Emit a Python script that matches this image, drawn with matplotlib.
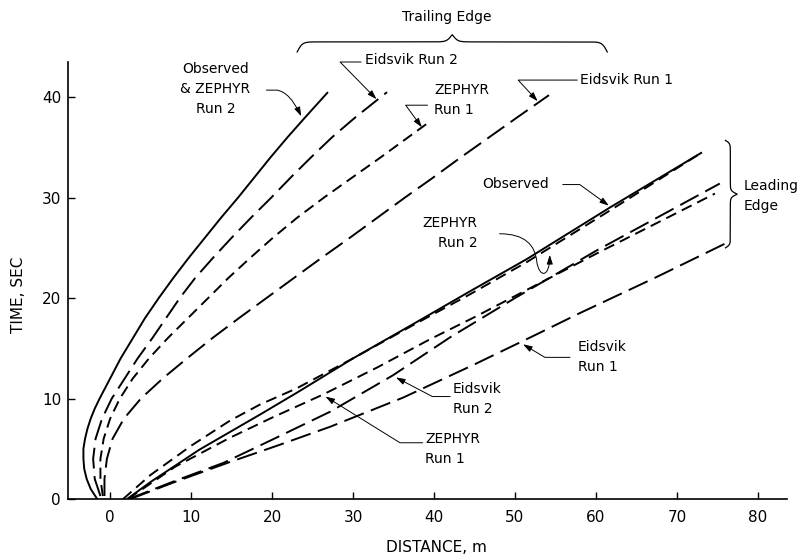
import numpy as np
import matplotlib
matplotlib.use("Agg")
import matplotlib.pyplot as plt
from matplotlib.path import Path
from matplotlib.patches import FancyArrowPatch

# ---------------- data: time (s) vs. distance (m) ----------------
# Trailing edge
trail_observed_time = [0.0, 1.0, 2.0, 3.0, 4.0, 5.0, 6.0, 7.0, 8.0, 9.0, 10.0, 12.0, 14.0, 16.0,
                       18.0, 20.0, 22.0, 24.0, 26.0, 28.0, 30.0, 32.0, 34.0, 36.0, 38.0, 40.5]
trail_observed_dist = [-1.6, -2.4, -2.9, -3.2, -3.3, -3.3, -3.1, -2.8, -2.4, -1.9, -1.3, 0.0, 1.3, 2.8,
                       4.3, 6.0, 7.8, 9.7, 11.7, 13.7, 15.8, 17.8, 19.8, 21.9, 24.1, 26.9]

trail_eid2_time = [0.3, 2.0, 4.0, 6.0, 8.0, 10.0, 12.0, 14.0, 16.0, 18.0, 20.0, 22.0, 24.0, 26.0,
                   28.0, 30.0, 32.0, 34.0, 36.0, 38.0, 40.5]
trail_eid2_dist = [-1.2, -1.9, -2.1, -1.8, -1.0, 0.2, 1.8, 3.4, 5.2, 6.9, 8.6, 10.5, 12.7, 15.0,
                   17.4, 19.9, 22.3, 24.8, 27.4, 30.3, 34.2]

trail_zep1_time = [0.3, 2.0, 4.0, 6.0, 8.0, 10.0, 12.0, 14.0, 16.0, 18.0, 20.0, 22.0, 24.0, 26.0,
                   28.0, 30.0, 32.0, 34.0, 36.0, 37.4]
trail_zep1_dist = [-0.9, -1.2, -1.2, -0.8, 0.0, 1.2, 2.8, 4.8, 7.1, 9.6, 12.1, 14.6, 17.3, 20.1,
                   23.1, 26.4, 29.9, 33.4, 36.8, 39.2]

trail_eid1_time = [0.3, 2.0, 4.0, 6.0, 8.0, 10.0, 12.0, 14.0, 16.0, 18.0, 20.0, 22.0, 24.0, 26.0,
                   28.0, 30.0, 32.0, 34.0, 36.0, 38.0, 40.2]
trail_eid1_dist = [-0.7, -0.7, -0.4, 0.3, 1.7, 3.8, 6.5, 9.5, 12.6, 15.9, 19.3, 22.7, 26.1, 29.6,
                   33.0, 36.4, 39.9, 43.3, 46.8, 50.3, 54.2]

# Leading edge
lead_observed_dist = [2.1, 5.0, 11.0, 18.5, 23.1, 30.0, 37.4, 44.5, 51.5, 61.7, 73.1]
lead_observed_time = [0.0, 1.7, 4.9, 8.4, 10.6, 14.0, 17.4, 20.7, 23.9, 29.0, 34.5]

lead_zep2_dist = [1.6, 5.0, 10.0, 14.8, 18.5, 23.0, 30.0, 37.4, 44.5, 51.5, 61.7, 73.1]
lead_zep2_time = [0.0, 2.4, 5.3, 7.8, 9.4, 11.0, 14.0, 17.3, 20.4, 23.6, 28.7, 34.5]

lead_zep1_dist = [2.2, 8.0, 14.8, 20.0, 26.3, 33.0, 39.5, 45.0, 50.0, 60.0, 74.7]
lead_zep1_time = [0.0, 3.2, 6.1, 8.1, 10.4, 13.1, 15.9, 18.1, 20.2, 24.4, 30.4]

lead_eid2_dist = [2.3, 8.0, 14.0, 20.0, 27.2, 34.9, 42.0, 50.0, 60.0, 75.3]
lead_eid2_time = [0.0, 1.8, 3.6, 5.9, 8.7, 12.3, 16.1, 20.0, 24.7, 31.4]

lead_eid1_dist = [2.5, 8.0, 14.5, 20.6, 27.2, 36.2, 45.0, 52.7, 58.0, 67.5, 75.9]
lead_eid1_time = [0.0, 1.7, 3.6, 5.3, 7.2, 10.1, 13.4, 16.4, 18.5, 22.1, 25.4]

x_ticks = [0, 10, 20, 30, 40, 50, 60, 70, 80]
y_ticks = [0, 10, 20, 30, 40]

# ---------------- figure ----------------
plt.rcParams["font.family"] = ["DejaVu Sans"]
plt.rcParams["lines.scale_dashes"] = False

fig = plt.figure(figsize=(8.09, 5.6), dpi=100)
ax = fig.add_axes([0.0841, 0.1089, 0.8887, 0.7804])
ax.set_xlim(-5.2, 83.6)
ax.set_ylim(0, 43.5)

LW = 1.4
solid = dict(color="k", lw=LW, solid_capstyle="butt", solid_joinstyle="round")
eid_style = dict(color="k", lw=LW, dashes=(15, 5.5), dash_capstyle="butt")
zep_style = dict(color="k", lw=LW, dashes=(8, 4.5), dash_capstyle="butt")

ax.plot(trail_observed_dist, trail_observed_time, **solid)
ax.plot(trail_eid2_dist, trail_eid2_time, **eid_style)
ax.plot(trail_zep1_dist, trail_zep1_time, **zep_style)
ax.plot(trail_eid1_dist, trail_eid1_time, **eid_style)

ax.plot(lead_observed_dist, lead_observed_time, **solid)
ax.plot(lead_zep2_dist, lead_zep2_time, **zep_style)
ax.plot(lead_zep1_dist, lead_zep1_time, **zep_style)
ax.plot(lead_eid2_dist, lead_eid2_time, **eid_style)
ax.plot(lead_eid1_dist, lead_eid1_time, **eid_style)

# axes styling
for side in ("top", "right"):
    ax.spines[side].set_visible(False)
for side in ("left", "bottom"):
    ax.spines[side].set_linewidth(1.2)
ax.set_xticks(x_ticks)
ax.set_yticks(y_ticks)
ax.tick_params(direction="in", length=5, width=1, labelsize=11)
ax.tick_params(axis="x", pad=8)
ax.tick_params(axis="y", pad=5)

ax.set_xlabel("DISTANCE, m", fontsize=11)
ax.xaxis.set_label_coords(0.513, -0.093)
ax.set_ylabel("TIME, SEC", fontsize=11)
ax.yaxis.set_label_coords(-0.058, 0.467)


# ---------------- braces ----------------
def brace_profile(n=300, beta=120.0):
    t = np.linspace(0.0, 0.5, n)
    half = 1 / (1 + np.exp(-beta * t)) + 1 / (1 + np.exp(-beta * (t - 0.5)))
    full = np.concatenate([half, half[::-1]]) - 1.0
    s = np.linspace(0.0, 1.0, 2 * n)
    return s, full


s, v = brace_profile(beta=120.0)
bx = 23.1 + s * (61.4 - 23.1)
by = 45.5 + np.where(v < 0, v * 2.0, v * 1.4)
ax.plot(bx, by, color="k", lw=0.9, clip_on=False)

s, v = brace_profile(beta=70.0)
vy = 35.7 - s * (35.7 - 25.0)
vx = 76.6 + np.where(v < 0, v * 1.2, v * 1.7)
ax.plot(vx, vy, color="k", lw=0.9, clip_on=False)

TXT = dict(fontsize=10, color="k", linespacing=1.55)
ax.text(41.6, 48.0, "Trailing Edge", ha="center", va="center", **TXT)
ax.text(78.2, 30.2, "Leading\nEdge", ha="left", va="center", **TXT)

# ---------------- labels with leaders ----------------
ax.text(13.0, 40.8, "Observed\n& ZEPHYR\nRun 2", ha="center", va="center",
        multialignment="center", **TXT)
ax.text(31.5, 43.7, "Eidsvik Run 2", ha="left", va="center", **TXT)
ax.text(40.0, 39.7, "ZEPHYR\nRun 1", ha="left", va="center", **TXT)
ax.text(58.0, 41.7, "Eidsvik Run 1", ha="left", va="center", **TXT)
ax.text(46.0, 31.4, "Observed", ha="left", va="center", **TXT)
ax.text(45.4, 26.5, "ZEPHYR\nRun 2", ha="right", va="center",
        multialignment="right", **TXT)
ax.text(57.8, 14.1, "Eidsvik\nRun 1", ha="left", va="center", **TXT)
ax.text(42.3, 10.0, "Eidsvik\nRun 2", ha="left", va="center", **TXT)
ax.text(38.9, 5.0, "ZEPHYR\nRun 1", ha="left", va="center", **TXT)

M, L, C3, C4 = Path.MOVETO, Path.LINETO, Path.CURVE3, Path.CURVE4


def leader(verts, codes):
    arrow = FancyArrowPatch(path=Path(verts, codes),
                            arrowstyle="-|>,head_length=0.55,head_width=0.18",
                            mutation_scale=10, lw=0.7, color="k",
                            clip_on=False)
    ax.add_patch(arrow)


leader([(19.3, 40.7), (20.6, 40.7), (22.2, 40.5), (23.6, 38.1)], [M, L, C3, C3])
leader([(31.0, 43.5), (28.4, 43.5), (32.9, 39.8)], [M, L, L])
leader([(39.2, 39.2), (36.5, 39.2), (38.5, 37.0)], [M, L, L])
leader([(57.7, 41.7), (50.4, 41.7), (52.8, 39.6)], [M, L, L])
leader([(55.9, 31.3), (58.0, 31.3), (61.6, 29.2)], [M, L, L])
leader([(48.1, 26.4), (51.2, 26.4), (52.5, 25.3), (52.7, 23.6),
        (53.0, 22.0), (54.3, 22.0), (54.3, 24.3)], [M, C4, C4, C4, C4, C4, C4])
leader([(56.8, 14.1), (53.7, 14.1), (51.0, 15.4)], [M, L, L])
leader([(42.0, 10.2), (39.8, 10.2), (35.3, 12.1)], [M, L, L])
leader([(38.6, 5.6), (35.8, 5.6), (26.6, 10.2)], [M, L, L])

fig.savefig("out.png", dpi=100)
